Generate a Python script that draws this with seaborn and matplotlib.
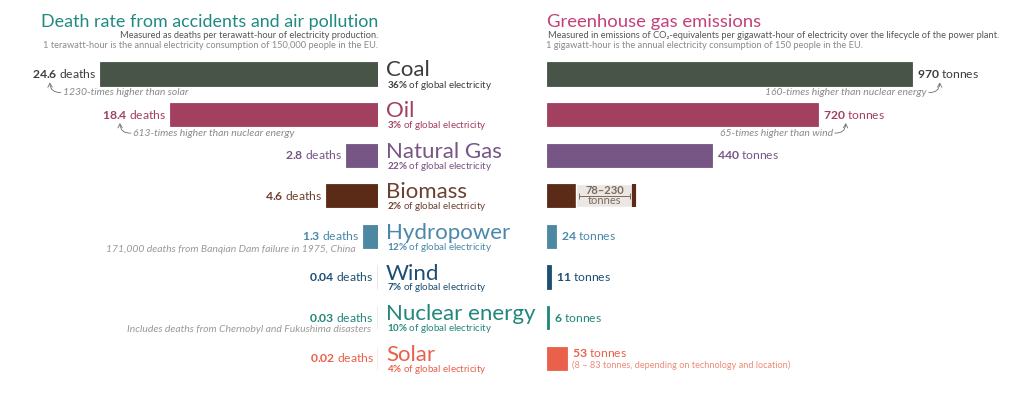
import numpy as np
import pandas as pd
import seaborn as sns
import matplotlib
matplotlib.use("Agg")
import matplotlib.pyplot as plt
from matplotlib.transforms import IdentityTransform
from matplotlib.patches import FancyArrowPatch

# ---------------- data ----------------
sources = ["Coal", "Oil", "Natural Gas", "Biomass", "Hydropower", "Wind",
           "Nuclear energy", "Solar"]
deaths = [24.6, 18.4, 2.8, 4.6, 1.3, 0.04, 0.03, 0.02]
emissions = [970, 720, 440, 78, 24, 11, 6, 53]
biomass_range = (78, 230)
shares = ["36%", "3%", "22%", "2%", "12%", "7%", "10%", "4%"]
bar_colors = ["#475447", "#a2405f", "#775585", "#5b2b17", "#4e87a2",
              "#1d4f73", "#22877b", "#e9604b"]
text_colors = ["#3d3d3d", "#a2405f", "#775585", "#6b4130", "#4a88aa",
               "#1d4f73", "#22877b", "#e9604b"]
death_notes = {0: "1230-times higher than solar",
               1: "613-times higher than nuclear energy",
               4: "171,000 deaths from Banqian Dam failure in 1975, China",
               6: "Includes deaths from Chernobyl and Fukushima disasters"}
emission_notes = {0: "160-times higher than nuclear energy",
                  1: "65-times higher than wind"}
solar_note = "(8 \u2013 83 tonnes, depending on technology and location)"

title_left = "Death rate from accidents and air pollution"
sub_left1 = "Measured as deaths per terawatt-hour of electricity production."
sub_left2 = "1 terawatt-hour is the annual electricity consumption of 150,000 people in the EU."
title_right = "Greenhouse gas emissions"
sub_right1 = "Measured in emissions of CO\u2082-equivalents per gigawatt-hour of electricity over the lifecycle of the power plant."
sub_right2 = "1 gigawatt-hour is the annual electricity consumption of 150 people in the EU."

# ---------------- figure ----------------
W, H = 1024, 396
sns.set_theme(style="white")
plt.rcParams['font.family'] = ['Lato', 'DejaVu Sans']
plt.rcParams['mathtext.fontset'] = 'custom'
plt.rcParams['mathtext.rm'] = 'Lato'
plt.rcParams['mathtext.bf'] = 'Lato:bold'
plt.rcParams['mathtext.it'] = 'Lato:italic'

fig = plt.figure(figsize=(W / 100, H / 100), dpi=100)
fig.patch.set_facecolor("white")


def fx(p):
    return p / W


row_top, row_h, n = 53.7, 40.6, len(sources)
ax_b = 1 - (row_top + n * row_h) / H
ax_h = n * row_h / H
axL = fig.add_axes([fx(30), ax_b, fx(378) - fx(30), ax_h])
axR = fig.add_axes([fx(547), ax_b, fx(1010) - fx(547), ax_h])

df = pd.DataFrame({"source": sources, "deaths": deaths, "emissions": emissions})
pal = dict(zip(sources, bar_colors))

sns.barplot(data=df, y="source", x="deaths", hue="source", palette=pal,
            orient="h", width=0.57, saturation=1, legend=False, ax=axL)
sns.barplot(data=df, y="source", x="emissions", hue="source", palette=pal,
            orient="h", width=0.57, saturation=1, legend=False, ax=axR)

for ax in (axL, axR):
    for p in ax.patches:
        p.set_edgecolor(p.get_facecolor())
        p.set_linewidth(0.6 if p.get_width() > 0.5 else 0.9)
    ax.set_ylim(n - 0.5, -0.5)
    ax.axis("off")
axL.set_xlim(30.8, 0)
axR.set_xlim(0, 1231)

# biomass range on the emissions side
bi = sources.index("Biomass")
lo, hi = biomass_range
axR.barh(bi, hi - lo, left=lo, height=0.57, color="#ece7e3", zorder=1)
axR.plot([hi, hi], [bi - 0.285, bi + 0.285], color=bar_colors[bi], lw=3,
         solid_capstyle="butt", zorder=3)

renderer = fig.canvas.get_renderer()
ID = IdentityTransform()


def px(ax, x, y):
    d = ax.transData.transform((x, y))
    return d[0], H - d[1]


def txt(x, y, s, **kw):
    """x, y in pixels from the top-left corner (y = baseline)."""
    kw.setdefault("va", "baseline")
    return fig.text(x, H - y, s, transform=ID, **kw)


# titles
txt(378, 26.5, title_left, ha="right", size=12.9, color="#1f8a82")
txt(378, 37.5, sub_left1, ha="right", size=6.7, color="#555555")
txt(378, 47.5, sub_left2, ha="right", size=6.7, color="#8a8a8a")
txt(547, 26.5, title_right, ha="left", size=13.3, color="#c4407a")
txt(548, 38.5, sub_right1, ha="left", size=6.7, color="#555555")
txt(546, 48.5, sub_right2, ha="left", size=6.7, color="#8a8a8a")

value_labels = {}
for i, src in enumerate(sources):
    c = text_colors[i]
    _, yc = px(axL, 0, i)
    # centre labels
    txt(386, yc + 2.5, src, ha="left", size=16, color=c)
    pct = shares[i].replace("%", r"\%")
    txt(387, yc + 13.5, r"$\mathbf{" + pct + r"}$ of global electricity",
        ha="left", size=7.0, color=c)
    # deaths value label
    xl, _ = px(axL, deaths[i], i)
    value_labels[i] = txt(xl - 4, yc + 4, r"$\mathbf{" + f"{deaths[i]:g}" + r"}$ deaths",
                          ha="right", size=8.7, color=c)
    # emissions value label
    if src == "Biomass":
        xa, _ = px(axR, lo, i)
        xb, _ = px(axR, hi, i)
        xm = (xa + xb) / 2
        txt(xm, yc - 1.5, f"{lo}\u2013{hi}", ha="center", size=8.0,
            weight="bold", color="#7a6a60")
        txt(xm, yc + 8.5, "tonnes", ha="center", size=8.0, color="#7a6a60")
        axR.plot([lo + 8, hi - 8], [i, i], color="#7a6a60", lw=0.7,
                 marker="|", ms=4, mew=0.7, zorder=2)
        continue
    xr, _ = px(axR, emissions[i], i)
    if src == "Solar":
        txt(xr + 5, yc - 1, r"$\mathbf{" + f"{emissions[i]}" + r"}$ tonnes",
            ha="left", size=8.7, color=c)
        txt(xr + 5, yc + 10, solar_note, ha="left", size=6.6, color="#ef8a78")
    else:
        txt(xr + 5, yc + 4, r"$\mathbf{" + f"{emissions[i]}" + r"}$ tonnes",
            ha="left", size=8.7, color=c)

arrow_kw = dict(arrowstyle="->,head_length=0.35,head_width=0.2",
                mutation_scale=8, color="#6f6f6f", lw=0.6, shrinkA=0, shrinkB=0)

# notes on deaths side
grey = "#8a8a8a"
for i, note in death_notes.items():
    _, yc = px(axL, 0, i)
    xl, _ = px(axL, deaths[i], i)
    if i in (0, 1):
        bb = value_labels[i].get_window_extent(renderer)
        xstart = bb.x0
        tx = xstart + 31
        txt(tx, yc + 21, note, ha="left", size=7.5, style="italic", color=grey)
        fig.add_artist(FancyArrowPatch(
            (tx - 2, H - (yc + 18.5)), (xstart + 18, H - (yc + 8.5)),
            transform=ID, connectionstyle="arc3,rad=-0.5", **arrow_kw))
    elif i == 4:
        txt(xl - 8, yc + 15.5, note, ha="right", size=7.5, style="italic",
            color="#9a9a9a")
    else:
        txt(xl - 7, yc + 14, note, ha="right", size=7.5, style="italic",
            color="#9a9a9a")

# notes on emissions side
for i, note in emission_notes.items():
    _, yc = px(axR, 0, i)
    xr, _ = px(axR, emissions[i], i)
    tx = xr + 15
    txt(tx, yc + 21, note, ha="right", size=7.5, style="italic", color=grey)
    fig.add_artist(FancyArrowPatch(
        (tx + 2, H - (yc + 18.5)), (xr + 28, H - (yc + 8.5)),
        transform=ID, connectionstyle="arc3,rad=0.5", **arrow_kw))

fig.savefig("out.png", dpi=100, facecolor="white")
